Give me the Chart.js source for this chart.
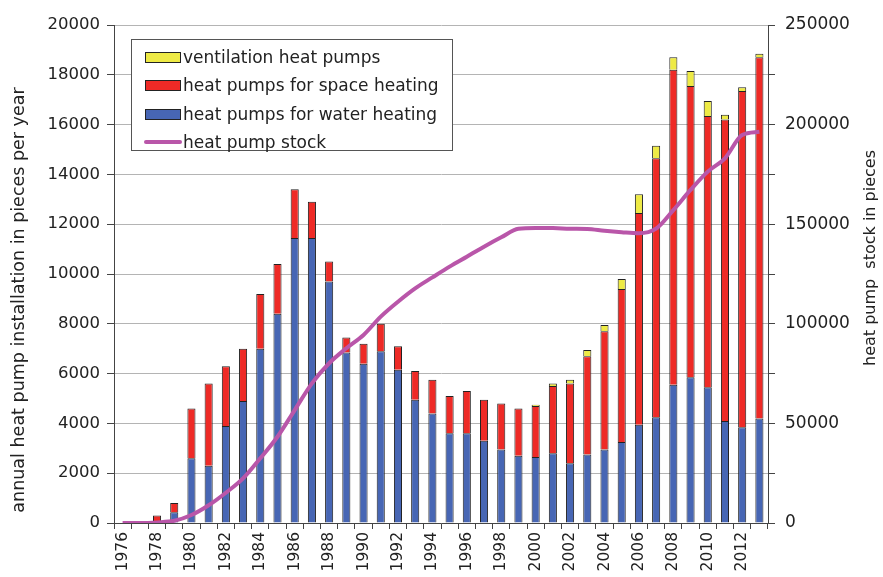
<!DOCTYPE html>
<html>
<head>
<meta charset="utf-8">
<script src="https://cdn.jsdelivr.net/npm/chart.js@4.4.1/dist/chart.umd.min.js"></script>
<style>
  html, body { margin: 0; padding: 0; background: #fff; overflow: hidden; }
  #wrap { position: relative; width: 883px; height: 577px; }
  #legend {
    position: absolute; left: 131px; top: 39px; width: 322px; height: 112px;
    border: 1px solid #555; background: #fff; box-sizing: border-box;
    font-family: "DejaVu Sans", sans-serif; font-size: 17px; color: #222;
    padding-top: 3px;
  }
  .item { position: relative; height: 28.3px; line-height: 28px; padding-left: 51px; white-space: nowrap; }
  .sw { position: absolute; left: 13px; top: 9px; width: 34px; height: 9px; border: 1px solid #222; }
  .ln { position: absolute; left: 12px; top: 12px; width: 38px; height: 4px; border-radius: 2px; }
</style>
</head>
<body>
<div id="wrap">
  <canvas id="c" width="883" height="577"></canvas>
  <div id="legend"></div>
</div>
<script>
// years 1976 .. 2013
const years = [1976, 1977, 1978, 1979, 1980, 1981, 1982, 1983, 1984, 1985,
  1986, 1987, 1988, 1989, 1990, 1991, 1992, 1993, 1994, 1995,
  1996, 1997, 1998, 1999, 2000, 2001, 2002, 2003, 2004, 2005,
  2006, 2007, 2008, 2009, 2010, 2011, 2012, 2013];

// pieces per year
const waterHeating = [0, 0, 80, 430, 2600, 2300, 3900, 4900, 7000, 8400,
  11450, 11450, 9700, 6850, 6400, 6900, 6150, 4950, 4400, 3600,
  3600, 3300, 2950, 2700, 2650, 2800, 2400, 2750, 2950, 3250,
  3950, 4250, 5550, 5850, 5450, 4100, 3850, 4200];
const spaceHeating = [0, 0, 220, 370, 2000, 3300, 2400, 2100, 2200, 2000,
  1950, 1450, 800, 600, 800, 1100, 950, 1150, 1350, 1500,
  1700, 1650, 1850, 1900, 2050, 2700, 3200, 3950, 4750, 6150,
  8500, 10400, 12650, 11700, 10900, 12100, 13500, 14500];
const ventilation = [0, 0, 0, 0, 0, 0, 0, 0, 0, 0,
  0, 0, 0, 0, 0, 0, 0, 0, 0, 0,
  0, 0, 0, 0, 50, 100, 150, 250, 250, 400,
  750, 500, 500, 600, 600, 200, 150, 150];

// heat pump stock (right axis)
const stock = [0, 0, 300, 1100, 4000, 8900, 15200, 22400, 32500, 43300,
  56700, 70100, 80200, 87700, 94400, 103600, 111100, 117800, 123300, 128700,
  133700, 138700, 143400, 147700, 148100, 148100, 147700, 147600, 146700, 146000,
  145500, 147800, 157100, 167200, 176400, 183100, 194800, 196400];

const seriesNames = ['ventilation heat pumps', 'heat pumps for space heating',
  'heat pumps for water heating', 'heat pump stock'];
const leftTitle = 'annual heat pump installation in pieces per year';
const rightTitle = 'heat pump  stock in pieces';

const colYellow = '#eeea45';
const colRed = '#ee2a26';
const colBlue = '#4766b4';
const colLine = '#b956a9';

Chart.defaults.font.family = '"DejaVu Sans", sans-serif';
Chart.defaults.color = '#222';

// axis titles, both read bottom to top like the original
const axisTitles = {
  id: 'axisTitles',
  afterDraw(chart) {
    const ctx = chart.ctx;
    ctx.save();
    ctx.fillStyle = '#222';
    ctx.font = '17.5px "DejaVu Sans"';
    ctx.textAlign = 'center';
    ctx.textBaseline = 'middle';
    ctx.translate(19, 300);
    ctx.rotate(-Math.PI / 2);
    ctx.fillText(leftTitle, 0, 0);
    ctx.restore();
    ctx.save();
    ctx.fillStyle = '#222';
    ctx.font = '16px "DejaVu Sans"';
    ctx.textAlign = 'center';
    ctx.textBaseline = 'middle';
    ctx.translate(871, 258);
    ctx.rotate(-Math.PI / 2);
    ctx.fillText(rightTitle, 0, 0);
    ctx.restore();
  }
};

const barCommon = {
  type: 'bar',
  yAxisID: 'y',
  stack: 'a',
  borderColor: '#222',
  borderWidth: 1,
  barPercentage: 0.47,
  categoryPercentage: 1,
  order: 1
};

const chart = new Chart(document.getElementById('c'), {
  data: {
    labels: years,
    datasets: [
      { ...barCommon, label: seriesNames[2], data: waterHeating, backgroundColor: colBlue },
      { ...barCommon, label: seriesNames[1], data: spaceHeating, backgroundColor: colRed },
      { ...barCommon, label: seriesNames[0], data: ventilation, backgroundColor: colYellow },
      {
        type: 'line',
        label: seriesNames[3],
        data: stock,
        yAxisID: 'y1',
        borderColor: colLine,
        borderWidth: 4,
        pointRadius: 0,
        cubicInterpolationMode: 'monotone',
        order: 0
      }
    ]
  },
  options: {
    responsive: false,
    animation: false,
    layout: { padding: { top: 25, left: 0, right: 0, bottom: 0 } },
    plugins: {
      legend: { display: false },
      tooltip: { enabled: false }
    },
    scales: {
      x: {
        stacked: true,
        afterFit(s) { s.height = 54; },
        border: { color: '#444', width: 1 },
        grid: { offset: true, drawOnChartArea: false, drawTicks: true, tickLength: 6, color: '#444' },
        ticks: {
          autoSkip: false,
          minRotation: 90,
          maxRotation: 90,
          padding: 3,
          font: { size: 15.5 },
          callback(v, i) { return years[i] % 2 === 0 ? String(years[i]) : ''; }
        }
      },
      y: {
        stacked: true,
        position: 'left',
        min: 0,
        max: 20000,
        afterFit(s) { s.width = 114; },
        border: { color: '#444', width: 1 },
        grid: { color: '#b4b4b4', tickColor: '#444', tickLength: 7 },
        ticks: { stepSize: 2000, padding: 7, font: { size: 16.5 }, callback(v) { return String(v); } }
      },
      y1: {
        position: 'right',
        min: 0,
        max: 250000,
        afterFit(s) { s.width = 115; },
        border: { color: '#444', width: 1 },
        grid: { drawOnChartArea: false, color: '#444', tickLength: 7 },
        ticks: {
          stepSize: 25000,
          padding: 10,
          font: { size: 17 },
          callback(v) { return v % 50000 === 0 ? String(v) : ''; }
        }
      }
    }
  },
  plugins: [axisTitles]
});

// legend box drawn as html, same order as the original
const legendItems = [
  { name: seriesNames[0], color: colYellow, line: false },
  { name: seriesNames[1], color: colRed, line: false },
  { name: seriesNames[2], color: colBlue, line: false },
  { name: seriesNames[3], color: colLine, line: true }
];
const lg = document.getElementById('legend');
legendItems.forEach(it => {
  const row = document.createElement('div');
  row.className = 'item';
  const mark = document.createElement('span');
  mark.className = it.line ? 'ln' : 'sw';
  mark.style.background = it.color;
  row.appendChild(mark);
  row.appendChild(document.createTextNode(it.name));
  lg.appendChild(row);
});
</script>
</body>
</html>
